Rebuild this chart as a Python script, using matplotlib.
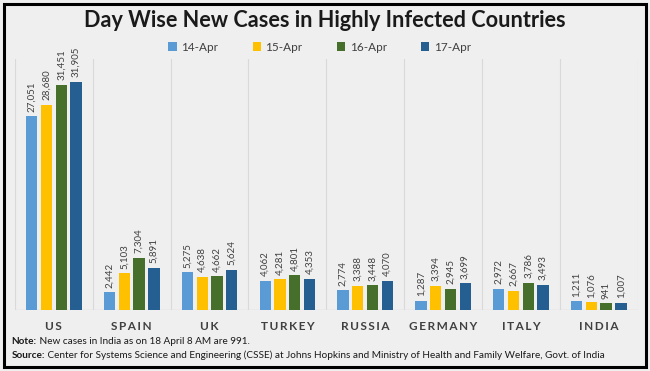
import matplotlib
matplotlib.use("Agg")
import matplotlib.pyplot as plt
from matplotlib.patches import Rectangle
import numpy as np

plt.rcParams['font.family'] = ['Lato', 'DejaVu Sans']

countries = ["US", "SPAIN", "UK", "TURKEY", "RUSSIA", "GERMANY", "ITALY", "INDIA"]
series_names = ["14-Apr", "15-Apr", "16-Apr", "17-Apr"]
apr14 = [27051, 2442, 5275, 4062, 2774, 1287, 2972, 1211]
apr15 = [28680, 5103, 4638, 4281, 3388, 3394, 2667, 1076]
apr16 = [31451, 7304, 4662, 4801, 3448, 2945, 3786, 941]
apr17 = [31905, 5891, 5624, 4353, 4070, 3699, 3493, 1007]
series = [apr14, apr15, apr16, apr17]
colors = ["#5B9BD5", "#FFC000", "#456F2A", "#255E91"]

bg = "#EFEFEF"
fig = plt.figure(figsize=(6.5, 3.71), dpi=100)
fig.patch.set_facecolor(bg)
ax = fig.add_axes([0.023, 0.165, 0.958, 0.675])
ax.set_facecolor(bg)

x = np.arange(len(countries))
w = 0.145
step = 0.19
for i, (vals, name, c) in enumerate(zip(series, series_names, colors)):
    pos = x + (i - 1.5) * step
    ax.bar(pos, vals, width=w, color=c, label=name, zorder=3)
    for xi, v in zip(pos, vals):
        ax.text(xi, v + 600, f"{v:,}", rotation=90, ha="center", va="bottom",
                fontsize=7, color="#404040", zorder=4)

ax.set_xlim(-0.5, len(countries) - 0.5)
ax.set_ylim(0, 35000)
for b in np.arange(-0.5, len(countries), 1.0):
    ax.axvline(b, color="#D9D9D9", lw=0.8, zorder=1)
ax.axhline(0, color="#D9D9D9", lw=1.0, zorder=2)
for s in ax.spines.values():
    s.set_visible(False)
ax.set_yticks([])
ax.set_xticks(x)
ax.set_xticklabels(["\u2009".join(c) for c in countries], fontsize=8.5, fontweight="bold",
                   color="#404040")
ax.tick_params(axis="x", length=0, pad=8)

fig.text(0.5, 0.945, "Day Wise New Cases in Highly Infected Countries", ha="center",
         va="center", fontsize=15.6, fontweight="bold", color="#1a1a1a")

leg = fig.legend(loc="center", bbox_to_anchor=(0.492, 0.873), ncol=4, frameon=False,
                 fontsize=8.5, handlelength=0.7, handleheight=0.7, columnspacing=2.9,
                 handletextpad=0.4)
for t in leg.get_texts():
    t.set_color("#404040")

fs = 7.2
t1 = fig.text(0.018, 0.08, "Note:", fontsize=fs, fontweight="bold", color="#1a1a1a", va="center")
ax.annotate(" New cases in India as on 18 April 8 AM are 991.", xy=(1, 0.5), xycoords=t1,
            va="center", ha="left", fontsize=fs, color="#1a1a1a", annotation_clip=False)
t2 = fig.text(0.018, 0.042, "Source:", fontsize=fs, fontweight="bold", color="#1a1a1a", va="center")
ax.annotate(" Center for Systems Science and Engineering (CSSE) at Johns Hopkins and Ministry of Health and Family Welfare, Govt. of India",
            xy=(1, 0.5), xycoords=t2, va="center", ha="left", fontsize=fs, color="#1a1a1a",
            annotation_clip=False)

fig.patches.append(Rectangle((0.006, 0.012), 0.988, 0.978, transform=fig.transFigure,
                             fill=False, edgecolor="black", lw=2.2))

fig.savefig("out.png", dpi=100, facecolor=bg)
